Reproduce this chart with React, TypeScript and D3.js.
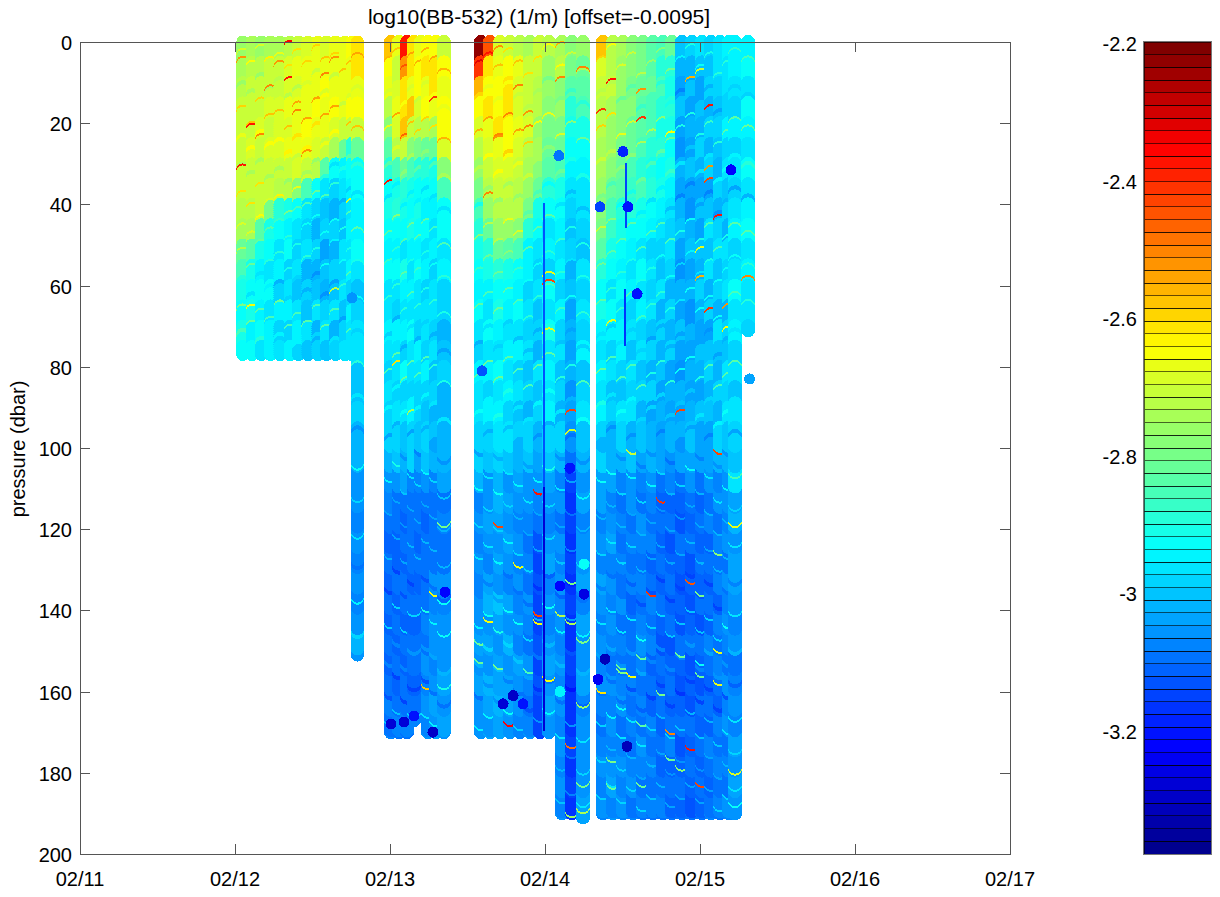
import React from "react";
import * as d3 from "d3";

const xTickLabels = ["02/11", "02/12", "02/13", "02/14", "02/15", "02/16", "02/17"];
const yTicks = [0, 20, 40, 60, 80, 100, 120, 140, 160, 180, 200];
const barTicks = [-2.2, -2.4, -2.6, -2.8, -3, -3.2];
const titleText = "log10(BB-532) (1/m) [offset=-0.0095]";

// Days since 02/11 for each profile group
const profileTimes = [
  1.05, 1.11, 1.17, 1.23, 1.29, 1.355, 1.41, 1.47, 1.535, 1.59, 1.65, 1.71, 1.755, 1.79,
  2.006, 2.058, 2.11, 2.155, 2.2, 2.245, 2.297, 2.348,
  2.587, 2.645, 2.71, 2.774, 2.839, 2.903, 2.968, 3.026, 3.11, 3.174, 3.245,
  3.374, 3.439, 3.503, 3.568, 3.632, 3.697, 3.761, 3.819, 3.884, 3.948, 4.013, 4.071, 4.129, 4.187, 4.226, 4.31,
];
const profileBottoms = [
  77, 77, 77, 77, 77, 77, 77, 77, 77, 77, 77, 77, 77, 151,
  170, 170, 170, 167, 135, 170, 170, 170,
  170, 170, 170, 170, 170, 170, 170, 170, 190, 190, 191,
  190, 190, 190, 190, 190, 190, 190, 190, 190, 190, 190, 190, 190, 190, 190, 71,
];
// Each row: log10 value x -100 for every 5 dbar from the surface
const profileValues = [
  [276,275,273,271,270,271,270,271,272,275,281,286,290,292,290,292],
  [275,273,271,270,270,269,270,270,272,274,284,290,293,290,294,292],
  [276,273,270,271,269,270,270,271,270,284,290,294,292,295,292,296],
  [275,271,271,269,270,269,270,270,279,290,293,296,292,297,294,295],
  [275,270,270,269,268,269,270,273,288,293,297,294,298,294,298,296],
  [273,269,269,267,269,267,270,272,290,295,293,298,296,294,298,294],
  [270,267,269,266,266,267,269,277,292,296,299,296,300,297,295,298],
  [269,267,266,266,265,267,270,286,296,299,297,301,298,300,296,300],
  [267,267,266,265,266,269,272,292,298,301,299,302,300,297,302,299],
  [269,266,265,266,266,270,284,296,300,298,303,300,302,299,296,300],
  [267,267,266,265,269,274,292,298,301,299,302,298,300,297,301,298],
  [267,266,267,267,270,282,294,296,298,300,297,299,296,300,298,296],
  [264,266,266,264,270,288,292,294,296,294,297,294,298,295,297,296],
  [262,262,266,264,270,282,292,292,294,294,292,296,300,298,296,296,300,300,298,302,302,305,305,307,305,307,305,307,305,302,305],
  [258,264,266,272,278,284,288,293,290,293,295,293,296,297,295,297,298,297,298,299,302,305,308,310,311,309,311,310,311,310,311,310,308,310,308],
  [266,270,268,266,268,272,285,290,288,293,295,293,296,298,294,296,297,298,296,298,300,306,309,310,311,311,310,311,310,311,310,311,310,308,310],
  [238,252,262,262,258,270,282,288,290,293,296,290,294,297,295,298,293,299,297,300,301,304,310,311,310,311,310,310,311,310,311,310,310,308,310],
  [262,262,266,258,270,278,286,290,293,291,295,296,294,296,293,297,296,298,295,299,299,307,310,310,309,310,311,310,311,310,310,311,310,308,307],
  [266,264,264,268,272,280,288,292,290,293,295,293,297,296,298,295,297,299,298,300,303,308,310,310,311,310,311,310],
  [264,262,266,264,272,282,288,293,295,293,297,294,298,296,296,298,295,298,300,298,300,305,310,311,310,310,310,309,308,309,306,308,305,307,305],
  [264,262,262,266,274,282,290,292,294,297,295,298,296,296,298,296,300,298,301,300,302,308,310,310,309,310,306,308,306,305,307,305,304,305,304],
  [270,264,266,264,264,268,278,286,292,293,296,294,298,298,302,300,298,302,301,302,301,304,310,308,310,309,306,308,306,305,306,304,305,304,306],
  [222,240,256,264,268,272,276,280,286,288,290,293,295,292,296,298,295,297,296,299,299,302,307,305,307,305,307,305,306,304,306,304,306,305,305],
  [245,262,264,262,266,268,270,272,276,282,288,290,294,296,293,296,294,298,295,298,300,306,305,303,305,307,304,302,305,303,305,302,304,305,304],
  [268,266,264,264,262,266,268,270,272,276,282,288,293,290,294,296,293,297,295,297,298,302,302,304,306,303,305,300,303,306,304,303,302,304,303],
  [270,264,262,262,264,264,268,270,272,276,284,290,292,294,296,295,297,294,298,296,300,306,304,306,303,305,307,304,306,302,305,304,303,306,305],
  [272,266,268,268,266,268,270,272,272,278,286,293,295,293,297,294,298,296,300,298,302,304,305,308,305,307,306,308,305,307,304,306,305,308,307],
  [274,270,270,270,268,272,274,276,280,288,294,295,298,296,299,297,300,298,301,299,300,306,306,308,310,307,309,306,308,310,306,308,309,307,306],
  [270,270,272,272,276,274,278,282,290,293,296,298,296,300,298,302,296,300,298,301,303,305,308,310,312,314,313,315,314,313,314,313,314,315,314],
  [272,276,276,278,280,282,284,288,293,296,295,298,293,297,290,296,294,297,295,298,300,304,305,308,306,304,308,305,307,305,303,306,304,306,305],
  [274,272,278,276,280,282,286,290,293,295,297,294,298,295,299,297,300,298,301,298,301,307,306,309,306,308,305,308,306,308,305,307,306,308,306,308,306,308,306],
  [278,280,284,288,290,292,294,296,298,300,298,302,300,303,301,304,302,305,303,306,310,314,316,315,316,314,316,315,316,316,315,317,316,316,315,316,315,317,316],
  [276,282,284,286,290,293,295,297,296,298,300,297,299,296,298,295,300,298,296,300,302,306,304,308,305,306,304,307,303,306,305,304,307,305,306,305,306,304,303],
  [258,268,270,272,272,274,274,276,278,280,284,288,293,291,294,296,294,297,295,298,299,303,304,307,305,307,304,306,308,305,307,306,308,309,307,305,307,306,308],
  [272,272,270,274,276,276,278,282,285,287,290,293,296,293,295,298,296,300,298,301,301,303,308,306,304,308,306,308,305,307,309,306,308,305,307,306,304,307,306],
  [274,276,276,278,278,280,282,284,288,290,293,295,293,297,295,294,298,300,296,298,302,307,309,307,310,307,309,306,309,307,310,308,306,309,307,305,308,306,307],
  [278,278,280,278,282,282,285,287,288,293,295,297,294,298,296,300,297,299,296,301,300,305,306,309,307,310,308,311,309,310,309,308,310,307,309,308,306,309,308],
  [280,280,282,284,284,286,288,286,290,293,296,293,297,295,299,296,300,298,302,300,303,307,309,306,308,310,307,309,307,305,308,310,307,309,306,308,310,307,309],
  [284,284,282,286,286,288,290,288,293,295,298,296,299,297,300,298,302,299,303,301,302,305,307,310,308,311,309,307,310,308,311,309,311,308,310,307,309,308,310],
  [286,288,286,288,290,288,292,290,294,296,298,300,297,301,298,302,300,303,301,304,304,309,311,309,311,310,311,309,311,312,310,311,309,311,309,311,310,308,310],
  [282,288,290,288,290,293,291,294,296,298,296,299,301,298,302,299,303,301,304,302,305,308,311,310,312,311,309,311,310,312,311,309,311,310,308,311,309,311,310],
  [300,302,304,300,303,305,301,304,302,300,303,305,302,304,300,303,305,302,304,301,303,309,311,312,310,311,312,311,312,310,311,313,311,310,312,311,309,311,310],
  [298,302,300,303,301,304,300,303,305,302,300,303,301,305,302,304,301,304,302,300,303,306,310,311,310,312,311,312,311,310,312,311,312,310,311,309,311,312,310],
  [296,300,303,300,302,298,301,304,300,303,300,302,298,301,303,300,302,304,300,303,304,309,311,309,311,310,311,310,312,309,311,312,310,311,310,311,309,311,310],
  [298,300,298,302,299,301,298,303,300,296,300,297,301,298,303,300,298,302,300,303,303,306,310,308,311,309,311,309,311,308,310,311,309,311,308,310,311,309,308],
  [296,296,298,300,298,300,302,298,301,299,296,300,298,301,297,300,302,298,301,299,302,308,306,309,307,310,308,311,308,310,307,309,311,308,310,308,310,307,309],
  [294,297,296,298,295,299,297,300,298,301,296,299,297,301,298,300,296,299,297,300,302,305,305,308,306,309,306,308,305,307,309,306,308,306,309,307,309,306,308],
  [295,294,296,298,295,298,296,299,297,294,298,296,293,297,294,298,296,300,297,299,300,296,304,302,305,303,304,306,308,306,309,307,305,307,304,306,304,306,305],
  [294,293,296,292,294,296,293,297,295,293,296,294,296,296,298],
];

// Dbar of the lighter or darker scallops seen in each profile group
const profileArcs = [
  [3,11,17,24,31,38,46,52,59,66,72],
  [6,13,21,27,33,41,48,56,63,70],
  [2,9,15,23,30,36,44,50,58,67,74],
  [5,12,19,26,34,40,47,55,61,69],
  [4,10,18,25,32,39,45,53,60,65,73],
  [7,14,22,28,35,43,49,57,64,71],
  [3,12,16,24,29,37,42,51,59,68,75],
  [6,11,20,27,33,41,46,54,62,70],
  [2,8,15,21,30,38,44,52,58,66,73],
  [5,13,19,26,34,39,48,56,63,71],
  [4,9,17,23,31,36,45,50,60,67,74],
  [8,16,25,32,40,47,55,61,69],
  [6,14,21,29,37,43,52,58,65,72],
  [4,12,22,31,38,47,55,64,72,80,88,96,104,112,121,128,137,145],
  [5,13,22,31,39,48,55,64,73,82,91,98,107,115,126,134,143,152,160,167],
  [3,10,19,27,36,44,52,61,69,78,86,95,103,112,121,129,138,147,155,164],
  [7,16,24,33,41,50,58,67,76,84,92,101,110,118,127,135,144,153,161],
  [4,12,21,29,38,46,55,63,71,80,89,97,106,114,123,132,140,149,158,165],
  [6,15,23,32,40,49,57,66,74,83,91,100,108,117,126],
  [3,11,20,28,37,45,53,62,70,79,88,96,105,113,122,131,139,148,156,165],
  [5,14,22,31,39,47,56,65,73,81,90,99,107,116,124,133,142,150,159,167],
  [8,17,25,34,42,51,59,68,77,85,94,102,111,119,128,136,145,154,162],
  [6,14,23,32,41,49,57,66,75,83,92,100,109,118,126,135,143,152,160,168],
  [4,12,20,29,37,46,54,63,71,80,89,97,106,114,123,132,140,148,157,165],
  [7,15,24,33,40,50,58,67,76,84,93,101,110,119,127,136,144,153,161],
  [3,11,19,28,36,45,53,62,70,79,87,96,105,113,122,130,139,147,156,164],
  [6,14,23,31,39,48,57,65,74,82,91,99,108,116,125,134,142,151,159,168],
  [9,17,26,34,43,52,60,69,77,86,94,103,112,120,129,137,146,155,163],
  [5,13,21,30,38,47,56,64,72,81,90,98,107,115,124,133,141,150,158,166],
  [2,10,19,27,36,44,53,61,70,78,87,95,104,113,121,130,138,147,156,164],
  [7,15,24,33,41,50,58,67,75,84,92,101,109,118,127,135,144,152,161,170,178,186],
  [4,13,21,30,38,47,55,64,72,81,89,98,107,115,124,132,141,149,158,167,175,184],
  [8,16,25,34,42,51,59,68,76,85,94,102,111,119,128,136,145,154,162,171,179,187],
  [5,13,22,30,39,47,56,65,73,82,90,99,107,116,125,133,142,150,159,167,176,185],
  [2,11,19,28,36,45,53,62,71,79,88,96,105,113,122,130,139,148,156,165,173,182],
  [7,15,24,32,41,50,58,67,75,84,92,101,110,118,127,135,144,152,161,170,178,186],
  [4,12,21,29,38,46,55,63,72,81,89,98,106,115,123,132,141,149,158,166,175,183],
  [9,17,26,35,43,52,60,69,77,86,94,103,112,120,129,137,146,154,163,172,180,188],
  [6,14,23,31,40,48,57,66,74,83,91,100,108,117,126,134,143,151,160,168,177,185],
  [3,11,20,28,37,46,54,63,71,80,88,97,105,114,123,131,140,148,157,165,174,182],
  [8,16,25,33,42,50,59,67,76,85,93,102,110,119,127,136,145,153,162,170,179,187],
  [5,13,22,31,39,48,56,65,73,82,90,99,108,116,125,133,142,150,159,168,176,185],
  [2,10,19,27,36,45,53,62,70,79,87,96,104,113,122,130,139,147,156,164,173,182],
  [7,15,24,33,41,50,58,67,75,84,93,101,110,118,127,135,144,153,161,170,178,186],
  [4,12,21,29,38,46,55,64,72,81,89,98,106,115,124,132,141,149,158,166,175,183],
  [9,18,26,35,43,52,60,69,78,86,95,103,112,120,129,138,146,155,163,172,180,188],
  [6,14,23,32,40,49,57,66,74,83,92,100,109,117,126,134,143,152,160,169,177,185],
  [3,12,20,29,37,46,54,63,72,80,89,97,106,114,123,132,140,149,157,166,174,183],
  [5,14,22,31,39,48,56,65],
];
const arcLifts = [0.08, -0.03, 0.12, 0.04, -0.04, 0.1, 0.06];

// Single samples that leave a thin crescent: [day, dbar, log10 value]
const crescentSamples: [number, number, number][] = [
  [2.839,128,-2.65],[2.245,139,-2.9],[2.297,135,-2.65],[2.348,137,-2.92],[2.245,158,-2.58],[2.348,158,-2.9],
  [2.968,140,-2.42],[2.968,142,-2.65],[2.71,153,-2.8],[2.587,151.5,-2.82],[2.645,141.6,-2.65],[2.587,147,-2.82],
  [2.903,154,-2.85],[2.774,167,-2.36],[3.026,156,-2.65],[3.174,142,-2.74],[3.174,132,-2.8],[3.174,172.7,-2.48],
  [3.245,162.5,-2.76],[3.245,182,-2.8],[3.245,188.7,-2.74],[3.174,189.6,-2.76],[3.245,146.5,-2.8],[3.374,159,-2.62],
  [3.503,153,-2.82],[3.503,154,-2.8],[3.632,150.6,-2.82],[3.568,155,-2.65],[3.503,163,-2.92],[3.761,159.6,-2.8],
  [3.884,150,-2.82],[4.013,152,-2.92],[4.013,155,-2.82],[3.819,169,-2.5],[3.819,175.6,-2.82],[3.884,178,-2.78],
  [3.632,167,-2.84],[3.948,173,-2.38],[4.013,182,-2.42],[3.632,182,-2.82],[4.226,179,-2.68],[4.129,149,-2.66],
  [4.129,157,-2.66],[3.439,176,-2.8],[3.439,182.5,-2.82],[4.226,187,-2.92],
  [3.11,1.5,-2.55],[3.11,10,-2.5],[3.245,7.6,-2.5],[3.439,10.6,-2.38],[3.374,18,-2.4],[3.632,20,-2.4],[2.903,18.5,-2.52],
  [2.903,22,-2.5],[2.71,24.6,-2.52],[2.645,38.4,-2.5],[2.839,12,-2.5],[2.71,2.5,-2.52],[3.819,23.7,-2.64],
  [4.071,17,-2.38],[4.071,35,-2.42],[4.129,44,-2.38],[4.071,32,-2.52],[4.013,8,-2.7],[3.632,13,-2.52],[3.948,10,-2.55],
  [4.31,59,-2.5],[4.187,66,-2.52],[4.187,71.5,-2.65],[4.013,59,-2.55],[4.071,67,-2.4],[4.013,52,-2.66],
  [1.355,1,-2.36],[1.05,5,-2.52],[1.355,10,-2.38],[1.59,9,-2.5],[1.05,31.5,-2.38],[1.11,21.7,-2.38],[1.23,12,-2.5],
  [1.41,18,-2.5],[1.47,28,-2.52],[1.65,5,-2.52],[1.17,24,-2.5],[1.29,6,-2.52],[2.297,15,-2.4],[2.006,35.7,-2.38],
  [1.755,40,-2.66],[1.65,62,-2.72],[1.11,66,-2.65],[2.058,80,-2.62],[2.155,92,-2.72],[2.348,118,-2.8],
  [3.439,70,-2.66],[3.568,100,-2.7],[3.761,112,-2.4],[3.884,92,-2.42],[4.129,100,-2.42],[4.226,118,-2.66],
  [3.697,135,-2.4],[3.948,132,-2.45],[2.71,118,-2.42],[3.11,140,-2.72],[4.129,125,-2.78],[4.013,135,-2.8],
  [3.026,58,-2.66],[3.026,60,-2.42],[3.026,72,-2.66],[3.174,92,-2.42],[3.174,97,-2.68],[2.968,110,-2.38],
];

// Separate blobs, drawn over the profiles: [day, dbar, log10 value]
const blobSamples: [number, number, number][] = [
  [2.006,168,-3.28],[2.09,167.5,-3.28],[2.155,166,-3.2],[2.277,170,-3.3],[2.73,163,-3.28],[2.794,161,-3.3],
  [2.355,135.5,-3.22],[2.858,163,-3.2],[3.097,134,-3.22],[3.252,136,-3.26],[3.387,152,-3.32],[3.529,173.5,-3.32],
  [3.342,157,-3.24],[3.252,128.6,-2.93],[3.097,160,-2.95],[3.09,28,-3.1],[3.503,27,-3.18],[3.355,40.6,-3.14],
  [3.535,40.6,-3.2],[4.2,31.5,-3.22],[4.32,83,-3.03],[1.755,63,-3.05],[2.348,88.6,-3.02],
  [3.161,105,-3.2],[2.594,81,-3.12],[3.594,62,-3.2],
];

// Narrow streaks of low values: day, start, end, value
const streakDays = [2.994, 2.994, 3.516, 3.523];
const streakStarts = [40, 110, 61, 30];
const streakEnds = [110, 170, 75, 46];
const streakLevels = [-3.12, -3.28, -3.16, -3.14];

const BAR_LEVELS = 64;
const VMAX = -2.197;
const VMIN = -3.378;

const jet = d3
  .scaleLinear<string>()
  .domain([0, 0.125, 0.375, 0.625, 0.875, 1])
  .range(["#00008f", "#0000ff", "#00ffff", "#ffff00", "#ff0000", "#800000"])
  .interpolate(d3.interpolateRgb);

const levelIndex = d3
  .scaleQuantize<number>()
  .domain([VMIN, VMAX])
  .range(d3.range(BAR_LEVELS));
const levelColor = (i: number) => jet(i / (BAR_LEVELS - 1));
const colorOf = (v: number) => levelColor(levelIndex(v));

const x = d3.scaleLinear().domain([0, 6]).range([80, 1010]);
const y = d3.scaleLinear().domain([0, 200]).range([42, 854]);
const barY = d3.scaleLinear().domain([VMAX, VMIN]).range([42, 854]);
const barCell = d3.scaleBand<number>().domain(d3.range(BAR_LEVELS)).range([854, 42]);

const STEP = 0.5;
const FLIP = 100;
const FONT = "'Liberation Sans', Arial, sans-serif";
const AXIS = "#555";

type Pt = { t: number; p: number; v: number };

function buildPoints(): { pts: Pt[]; radii: number[] } {
  const accent = new Map<string, number>();
  crescentSamples.forEach(([t, p, v]) => {
    const col = d3.leastIndex(profileTimes, (a, b) => Math.abs(a - t) - Math.abs(b - t)) as number;
    accent.set(`${col}:${Math.round(p / STEP)}`, v);
  });
  const pts: Pt[] = [];
  const radii: number[] = [];
  profileTimes.forEach((t, c) => {
    const row = profileValues[c];
    const lifts = new Map<number, number>();
    profileArcs[c].forEach((p, i) => {
      const lift = arcLifts[i % arcLifts.length];
      const k = Math.round(p / STEP);
      lifts.set(k, lift);
      if (Math.abs(lift) < 0.05) lifts.set(k + 1, lift);
    });
    const count = Math.round(profileBottoms[c] / STEP);
    const all = d3.range(count + 1);
    const deep = all.filter((k) => k * STEP >= FLIP).reverse();
    const shallow = all.filter((k) => k * STEP < FLIP);
    [...deep, ...shallow].forEach((k) => {
      const p = k * STEP;
      const base = row[Math.min(row.length - 1, Math.floor(p / 5))] / -100;
      pts.push({ t, p, v: accent.get(`${c}:${k}`) ?? base + (lifts.get(k) ?? 0) });
      radii.push(c < 14 ? 6.5 : 7);
    });
  });
  return { pts, radii };
}

export default function App() {
  const { pts, radii } = React.useMemo(buildPoints, []);
  const streakPts = React.useMemo(() => {
    const out: Pt[] = [];
    streakDays.forEach((t, i) => {
      d3.range(streakStarts[i], streakEnds[i], 0.5).forEach((p) => out.push({ t, p, v: streakLevels[i] }));
    });
    return out;
  }, []);
  const days = d3.range(xTickLabels.length);
  return (
    <svg
      width={1220}
      height={897}
      style={{ position: "absolute", left: 0, top: 0, display: "block", background: "#fff" }}
      fontFamily={FONT}
    >
      <g shapeRendering="crispEdges">
        {pts.map((d, i) => (
          <circle key={i} cx={x(d.t)} cy={y(d.p)} r={radii[i]} fill={colorOf(d.v)} />
        ))}
        {streakPts.map((d, i) => (
          <circle key={i} cx={x(d.t)} cy={y(d.p)} r={1.3} fill={colorOf(d.v)} />
        ))}
        {blobSamples.map((d, i) => (
          <circle key={i} cx={x(d[0])} cy={y(d[1])} r={5.5} fill={colorOf(d[2])} />
        ))}
      </g>

      <rect x={80.5} y={42.5} width={930} height={812} fill="none" stroke={AXIS} strokeWidth={1} />
      {days.map((d) => (
        <g key={d} stroke={AXIS} shapeRendering="crispEdges">
          <line x1={x(d) + 0.5} x2={x(d) + 0.5} y1={854} y2={844} />
          <line x1={x(d) + 0.5} x2={x(d) + 0.5} y1={42} y2={52} />
        </g>
      ))}
      {yTicks.map((d) => (
        <g key={d} stroke={AXIS} shapeRendering="crispEdges">
          <line x1={80} x2={90} y1={y(d) + 0.5} y2={y(d) + 0.5} />
          <line x1={1010} x2={1000} y1={y(d) + 0.5} y2={y(d) + 0.5} />
        </g>
      ))}
      {days.map((d) => (
        <text key={d} x={x(d)} y={886} textAnchor="middle" fontSize={20} fill="#000">
          {xTickLabels[d]}
        </text>
      ))}
      {yTicks.map((d) => (
        <text key={d} x={72} y={y(d) + 8} textAnchor="end" fontSize={20} fill="#000">
          {d}
        </text>
      ))}
      <text x={539} y={24} textAnchor="middle" fontSize={21} fill="#000">
        {titleText}
      </text>
      <text transform={`translate(25,449) rotate(-90)`} textAnchor="middle" fontSize={20} fill="#000">
        pressure (dbar)
      </text>

      <g shapeRendering="crispEdges">
        {d3.range(BAR_LEVELS).map((i) => (
          <rect
            key={i}
            x={1144}
            width={67}
            y={barCell(i) as number}
            height={barCell.bandwidth()}
            fill={levelColor(i)}
            stroke="#000"
            strokeWidth={0.6}
          />
        ))}
      </g>
      <rect x={1143.5} y={41.5} width={68} height={813} fill="none" stroke="#777" />
      {barTicks.map((d) => (
        <text key={d} x={1137} y={barY(d) + 7} textAnchor="end" fontSize={20} fill="#000">
          {d}
        </text>
      ))}
    </svg>
  );
}
